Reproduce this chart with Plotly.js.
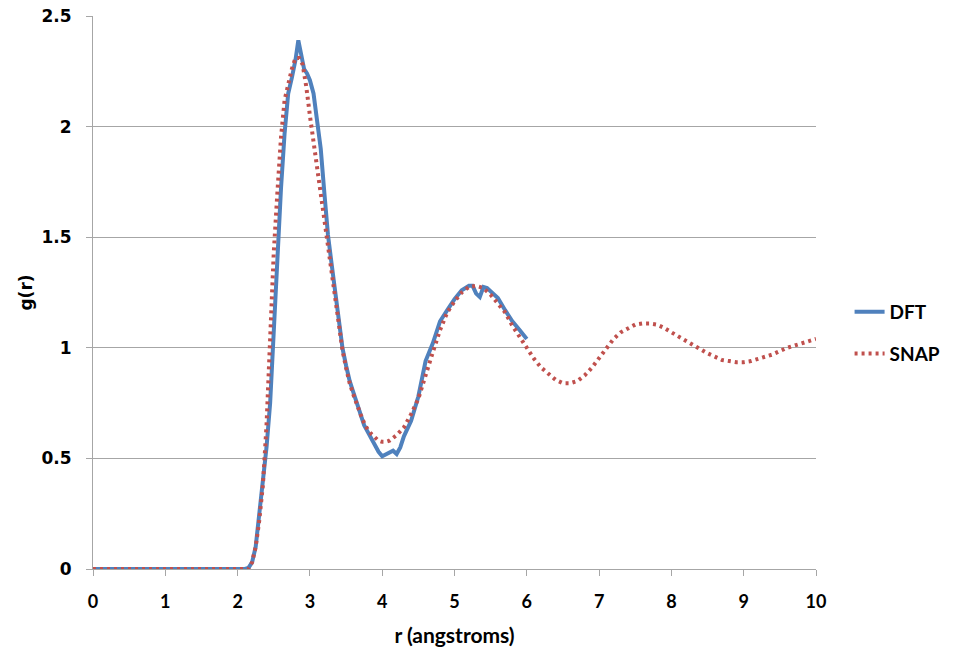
<!DOCTYPE html>
<html><head><meta charset="utf-8">
<script src="https://cdn.plot.ly/plotly-3.0.1.min.js"></script>
<style>html,body{margin:0;padding:0;background:#fff}</style>
</head><body>
<div id="chart" style="width:957px;height:647px"></div>
<script>
const dftR = [0,0.5,1,1.5,2,2.1,2.15,2.2,2.25,2.3,2.35,2.4,2.45,2.5,2.55,2.6,2.65,2.7,2.75,2.8,2.84,2.88,2.92,2.96,3.0,3.05,3.1,3.15,3.2,3.25,3.3,3.35,3.4,3.45,3.5,3.55,3.6,3.65,3.7,3.75,3.8,3.85,3.9,3.95,4.0,4.05,4.1,4.15,4.2,4.25,4.3,4.35,4.4,4.5,4.6,4.7,4.8,4.9,5.0,5.1,5.2,5.25,5.3,5.35,5.4,5.45,5.5,5.6,5.7,5.8,5.9,6.0];
const dftG = [0,0,0,0,0,0,0.005,0.03,0.1,0.24,0.4,0.55,0.75,1.07,1.42,1.72,1.97,2.15,2.22,2.3,2.39,2.33,2.26,2.24,2.21,2.15,2.02,1.9,1.7,1.51,1.38,1.26,1.13,1.0,0.92,0.85,0.8,0.75,0.7,0.65,0.62,0.59,0.56,0.53,0.51,0.52,0.53,0.535,0.52,0.55,0.6,0.64,0.67,0.78,0.94,1.02,1.12,1.17,1.22,1.26,1.28,1.28,1.245,1.23,1.275,1.27,1.255,1.225,1.17,1.12,1.08,1.04];

const snapR = [0,0.5,1,1.5,2,2.15,2.2,2.25,2.3,2.35,2.4,2.45,2.5,2.55,2.6,2.65,2.7,2.75,2.8,2.85,2.9,2.95,3.0,3.05,3.1,3.15,3.2,3.25,3.3,3.35,3.4,3.45,3.5,3.55,3.6,3.65,3.7,3.75,3.8,3.85,3.9,3.95,4.0,4.05,4.1,4.15,4.2,4.3,4.4,4.5,4.6,4.7,4.8,4.9,5.0,5.1,5.2,5.3,5.4,5.5,5.6,5.7,5.8,5.9,6.0,6.1,6.2,6.3,6.4,6.5,6.6,6.7,6.8,6.9,7.0,7.1,7.2,7.3,7.4,7.5,7.6,7.7,7.8,7.9,8.0,8.1,8.2,8.3,8.4,8.5,8.6,8.7,8.8,8.9,9.0,9.1,9.2,9.3,9.4,9.5,9.6,9.7,9.8,9.9,10.0];
const snapG = [0,0,0,0,0,0,0.03,0.1,0.22,0.38,0.65,1.08,1.43,1.7,1.95,2.12,2.2,2.26,2.31,2.31,2.28,2.18,2.05,1.93,1.8,1.68,1.56,1.46,1.35,1.22,1.08,0.99,0.91,0.84,0.79,0.74,0.7,0.66,0.63,0.61,0.595,0.58,0.575,0.575,0.58,0.59,0.605,0.64,0.7,0.77,0.88,0.98,1.08,1.16,1.21,1.25,1.275,1.28,1.27,1.24,1.2,1.16,1.1,1.05,1.0,0.95,0.91,0.88,0.855,0.84,0.84,0.85,0.875,0.91,0.955,1.0,1.04,1.07,1.09,1.105,1.11,1.11,1.105,1.09,1.07,1.05,1.03,1.01,0.99,0.975,0.96,0.945,0.94,0.935,0.935,0.94,0.95,0.96,0.97,0.985,1.0,1.01,1.02,1.03,1.04];

const traces = [
  {x: dftR, y: dftG, name: 'DFT', mode: 'lines', legendgroup: 'a',
   line: {color: '#4F81BD', width: 4}},
  {x: snapR, y: snapG, name: 'SNAP', mode: 'lines', legendgroup: 'b',
   line: {color: '#C0504D', width: 4, dash: '3px,4px'}}
];
const layout = {
  width: 957, height: 647,
  margin: {l: 93, r: 140, t: 16, b: 78},
  paper_bgcolor: '#fff', plot_bgcolor: '#fff',
  showlegend: true,
  legend: {x: 1.045, xanchor: 'left', y: 0.427, yanchor: 'middle',
    tracegroupgap: 14,
    font: {family: 'Lato, "Open Sans", sans-serif', size: 19, weight: 'bold', color: '#000'}},
  xaxis: {range: [0, 10], dtick: 1, tick0: 0, showgrid: false, zeroline: false,
    showline: true, linecolor: '#A6A6A6', linewidth: 1,
    ticks: 'outside', ticklen: 6, tickcolor: '#A6A6A6', ticklabelstandoff: 10,
    tickfont: {family: 'Lato, "Open Sans", sans-serif', size: 18, weight: 'bold', color: '#000'},
    title: {text: 'r (angstroms)', standoff: 20,
      font: {family: 'Lato, "Open Sans", sans-serif', size: 21, weight: 'bold', color: '#000'}}},
  yaxis: {range: [0, 2.5], dtick: 0.5, tick0: 0, showgrid: true, gridcolor: '#A6A6A6', gridwidth: 1,
    zeroline: false, showline: true, linecolor: '#A6A6A6', linewidth: 1,
    ticks: 'outside', ticklen: 6, tickcolor: '#A6A6A6', ticklabelstandoff: 11,
    tickfont: {family: '"DejaVu Sans", sans-serif', size: 17, weight: 'bold', color: '#000'},
    title: {text: 'g(r)', standoff: 4,
      font: {family: '"DejaVu Sans", sans-serif', size: 17, weight: 'bold', color: '#000'}}}
};
Plotly.newPlot('chart', traces, layout, {displayModeBar: false, staticPlot: true});
</script>
</body></html>
